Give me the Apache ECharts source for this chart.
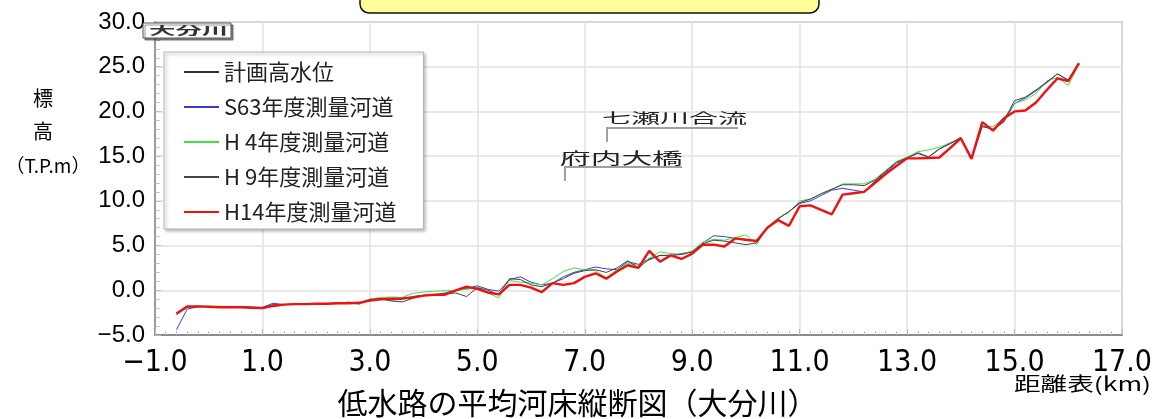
<!DOCTYPE html>
<html>
<head>
<meta charset="utf-8">
<script src="https://cdn.jsdelivr.net/npm/echarts@6/dist/echarts.min.js"></script>
<style>
  html, body { margin: 0; padding: 0; background: #ffffff; }
  #chart { width: 1155px; height: 419px; }
</style>
</head>
<body>
<div id="chart"></div>
<script>
// Survey stations along the river (distance from mouth, km)
const distanceKm = [
  -0.6, -0.4, -0.2, 0.0, 0.2, 0.4, 0.6, 0.8, 1.0, 1.2,
  1.4, 1.6, 1.8, 2.0, 2.2, 2.4, 2.6, 2.8, 3.0, 3.2,
  3.4, 3.6, 3.8, 4.0, 4.2, 4.4, 4.6, 4.8, 5.0, 5.2,
  5.4, 5.6, 5.8, 6.0, 6.2, 6.4, 6.6, 6.8, 7.0, 7.2,
  7.4, 7.6, 7.8, 8.0, 8.2, 8.4, 8.6, 8.8, 9.0, 9.2,
  9.4, 9.6, 9.8, 10.0, 10.2, 10.4, 10.6, 10.8, 11.0, 11.2,
  11.4, 11.6, 11.8, 12.0, 12.2, 12.4, 12.6, 12.8, 13.0, 13.2,
  13.4, 13.6, 13.8, 14.0, 14.2, 14.4, 14.6, 14.8, 15.0, 15.2,
  15.4, 15.6, 15.8, 16.0, 16.2
];

const seriesNames = ['計画高水位', 'S63年度測量河道', 'H 4年度測量河道', 'H 9年度測量河道', 'H14年度測量河道'];

// Planned high water level (listed in the legend only)
const planHighWater = [];

// Average low-water channel bed elevation (T.P.m)
const bedS63 = [
  -4.4, -2.1, -1.85, -1.8, -1.85, -1.85, -1.8, -1.9, -1.9, -1.45,
  -1.6, -1.55, -1.5, -1.55, -1.5, -1.4, -1.35, -1.4, -1.0, -0.9,
  -1.1, -1.0, -0.7, -0.55, -0.5, -0.3, 0.0, 0.2, 0.5, 0.1,
  -0.1, 1.2, 1.5, 0.9, 0.6, 0.8, 1.5, 2.0, 2.3, 2.6,
  2.4, 2.3, 3.2, 2.9, 3.4, 3.9, 3.9, 4.1, 4.3, 5.3,
  6.1, 6.0, 5.8, 5.6, 5.6, 7.0, 8.0, 8.8, 9.7, 10.0,
  10.6, 11.2, 11.4, 11.2, 11.0, 12.2, 13.2, 14.2, 14.8, 15.4,
  14.9, 15.8, 16.4, 17.0, 14.7, 18.3, 18.0, 18.8, 20.9, 21.5,
  22.3, 23.2, 24.2, 23.5, 25.3
];

const bedH4 = [
  -2.7, -1.9, -1.75, -1.75, -1.8, -1.8, -1.85, -1.9, -1.95, -1.65,
  -1.6, -1.55, -1.5, -1.5, -1.45, -1.5, -1.3, -1.6, -1.0, -0.8,
  -0.75, -0.8, -0.35, -0.2, -0.1, -0.05, 0.0, 0.1, 0.3, -0.3,
  -0.85, 1.1, 0.9, 0.8, 0.6, 1.3, 2.1, 2.5, 2.3, 2.2,
  1.4, 2.3, 3.0, 2.8, 3.6, 4.3, 4.1, 4.0, 4.4, 5.4,
  5.7, 5.6, 5.9, 6.2, 5.1, 7.1, 8.1, 8.7, 10.0, 10.2,
  10.8, 11.3, 11.9, 11.9, 11.9, 12.4, 13.4, 14.4, 14.9, 15.5,
  15.7, 16.0, 16.5, 17.0, 14.8, 18.3, 18.3, 19.2, 20.9, 21.3,
  22.0, 23.4, 23.8, 22.9, 25.3
];

const bedH9 = [
  -2.7, -1.9, -1.85, -1.8, -1.85, -1.85, -1.85, -1.9, -1.95, -1.6,
  -1.6, -1.55, -1.5, -1.5, -1.5, -1.45, -1.4, -1.45, -1.05, -0.95,
  -1.2, -1.3, -0.9, -0.6, -0.5, -0.4, -0.3, -0.7, 0.3, 0.0,
  -0.5, 1.3, 1.2, 0.6, 0.4, 0.8, 1.3, 1.9, 2.2, 2.3,
  2.0, 2.5, 3.3, 2.5, 3.5, 3.9, 3.9, 4.0, 4.3, 5.2,
  5.6, 5.5, 5.3, 5.1, 5.3, 7.0, 8.0, 8.8, 9.8, 10.2,
  10.8, 11.3, 11.8, 11.8, 11.7, 12.3, 13.3, 14.3, 14.8, 15.3,
  14.9, 15.8, 16.4, 17.1, 14.8, 18.4, 18.0, 18.9, 21.2, 21.6,
  22.4, 23.3, 24.2, 23.5, 25.3
];

const bedH14 = [
  -2.6, -1.8, -1.8, -1.85, -1.9, -1.9, -1.9, -1.95, -2.0, -1.75,
  -1.6, -1.55, -1.55, -1.5, -1.5, -1.45, -1.45, -1.4, -1.15, -1.0,
  -0.95, -0.9, -0.8, -0.6, -0.5, -0.5, 0.0, 0.4, 0.15, -0.25,
  -0.45, 0.6, 0.6, 0.3, -0.2, 0.8, 0.6, 0.8, 1.5, 1.9,
  1.3, 2.1, 2.8, 2.5, 4.4, 3.2, 3.9, 3.5, 4.1, 5.1,
  5.1, 4.9, 5.8, 5.65, 5.5, 7.0, 7.85, 7.2, 9.4, 9.5,
  9.0, 8.5, 10.7, 10.85, 11.0, 12.0, 13.0, 13.9, 14.75, 14.75,
  14.8, 14.85, 15.9, 17.0, 14.7, 18.8, 17.85, 19.2, 20.0, 20.1,
  21.0, 22.4, 23.7, 23.4, 25.4
];

const lineColors = ['#333333', '#3a3ad0', '#44dd44', '#444444', '#ee1111'];
const lineWidths = [1, 1, 1, 1, 2.4];

const xAxisRange = { min: -1, max: 17, interval: 2 };
const yAxisRange = { min: -5, max: 30, interval: 5 };

const cjkFont = '"Noto Sans CJK JP", sans-serif';
const narrowFont = '"Liberation Sans Narrow", "DejaVu Sans Condensed", sans-serif';

function pairs(values) {
  return values.map((v, i) => [distanceKm[i], v]);
}

function fmt(v) {
  return (v < 0 ? '\u2212' : '') + Math.abs(v).toFixed(1);
}

function label(x, y, text, font, scaleX, align) {
  return {
    type: 'text', z: 101, x: x, y: y, scaleX: scaleX || 1,
    style: { text: text, font: font, fill: '#000', align: align || 'left', verticalAlign: 'middle' }
  };
}

const seriesData = [planHighWater, bedS63, bedH4, bedH9, bedH14];

const chart = echarts.init(document.getElementById('chart'), null, { renderer: 'canvas' });

const nameTag = label(149, 31, '大分川', 'bold 11px ' + cjkFont, 2.4);
nameTag.style.fill = '#333';
const confluence = label(602, 118, '七瀬川合流', '13.5px ' + cjkFont, 2.15);
confluence.style.fill = '#222';
const bridge = label(560, 158, '府内大橋', '15.5px ' + cjkFont, 1.98);
bridge.style.fill = '#222';

chart.setOption({
  animation: false,
  backgroundColor: '#ffffff',
  title: {
    text: '低水路の平均河床縦断図（大分川）',
    left: 'center',
    top: 383,
    textStyle: { fontFamily: cjkFont, fontSize: 30, fontWeight: 'normal', color: '#000' }
  },
  grid: {
    left: 155, right: 19, top: 22, bottom: 84,
    show: true, backgroundColor: '#ffffff', borderColor: '#a8a8a8', borderWidth: 1.5
  },
  legend: {
    orient: 'vertical',
    left: 164, top: 52,
    itemWidth: 35, itemHeight: 2, itemGap: 13,
    padding: [9, 27, 6, 19],
    backgroundColor: '#ffffff',
    borderColor: '#b4b4b4', borderWidth: 1,
    shadowColor: 'rgba(0,0,0,0.3)', shadowBlur: 3, shadowOffsetX: 2, shadowOffsetY: 2,
    selectedMode: false,
    itemStyle: { opacity: 0 },
    textStyle: { fontFamily: cjkFont, fontSize: 22, lineHeight: 22, color: '#222' },
    data: seriesNames
  },
  xAxis: {
    type: 'value',
    min: xAxisRange.min, max: xAxisRange.max, interval: xAxisRange.interval,
    axisLine: { show: true, onZero: false, lineStyle: { color: '#8a8a8a', width: 2 } },
    axisTick: { show: true, inside: true, length: 6, lineStyle: { color: '#bbbbbb' } },
    minorTick: { show: true, splitNumber: 10, length: 4, lineStyle: { color: '#c4c4c4' } },
    splitLine: { show: true, lineStyle: { color: '#e2e2e2', width: 1.5 } },
    axisLabel: {
      margin: 13, fontFamily: narrowFont, fontSize: 30, color: '#000',
      formatter: fmt
    }
  },
  yAxis: {
    type: 'value',
    min: yAxisRange.min, max: yAxisRange.max, interval: yAxisRange.interval,
    axisLine: { show: true, onZero: false, lineStyle: { color: '#9a9a9a', width: 2 } },
    axisTick: { show: true, inside: true, length: 6, lineStyle: { color: '#bbbbbb' } },
    minorTick: { show: true, splitNumber: 5, length: 5, lineStyle: { color: '#c4c4c4' } },
    splitLine: { show: true, lineStyle: { color: '#e2e2e2', width: 1.5 } },
    axisLabel: {
      margin: 10, fontFamily: '"Liberation Sans", Arial, sans-serif', fontSize: 24, color: '#000',
      formatter: fmt
    }
  },
  series: seriesNames.map((name, i) => ({
    name: name,
    type: 'line',
    data: pairs(seriesData[i]),
    symbol: 'none',
    smooth: false,
    color: lineColors[i],
    lineStyle: { color: lineColors[i], width: lineWidths[i] },
    z: 2 + i
  })),
  graphic: [
    // banner box at the top
    {
      type: 'rect', z: 100,
      shape: { x: 360, y: -14, width: 459, height: 27, r: 9 },
      style: { fill: '#ffff99', stroke: '#111', lineWidth: 1.5 }
    },
    // river name tag
    {
      type: 'rect', z: 100,
      shape: { x: 143, y: 23, width: 88, height: 15 },
      style: { fill: '#ffffff', stroke: '#555', lineWidth: 1,
               shadowColor: 'rgba(0,0,0,0.45)', shadowOffsetX: 2, shadowOffsetY: 2, shadowBlur: 1 }
    },
    nameTag,
    // y-axis name
    label(43, 98, '標', '20px ' + cjkFont, 1, 'center'),
    label(43, 131, '高', '20px ' + cjkFont, 1, 'center'),
    label(48, 166, '（T.P.m）', '19px ' + cjkFont, 1, 'center'),
    // x-axis name
    label(1014, 384, '距離表(km)', '19px ' + cjkFont, 1.4),
    // landmark: Nanase River confluence
    confluence,
    {
      type: 'polyline', z: 100,
      shape: { points: [[738, 128], [607, 128], [607, 142]] },
      style: { stroke: '#a0a0a0', lineWidth: 2, fill: null }
    },
    // landmark: Funai Bridge
    bridge,
    {
      type: 'polyline', z: 100,
      shape: { points: [[682, 167], [565, 167], [565, 181]] },
      style: { stroke: '#a0a0a0', lineWidth: 2, fill: null }
    }
  ]
});
</script>
</body>
</html>
